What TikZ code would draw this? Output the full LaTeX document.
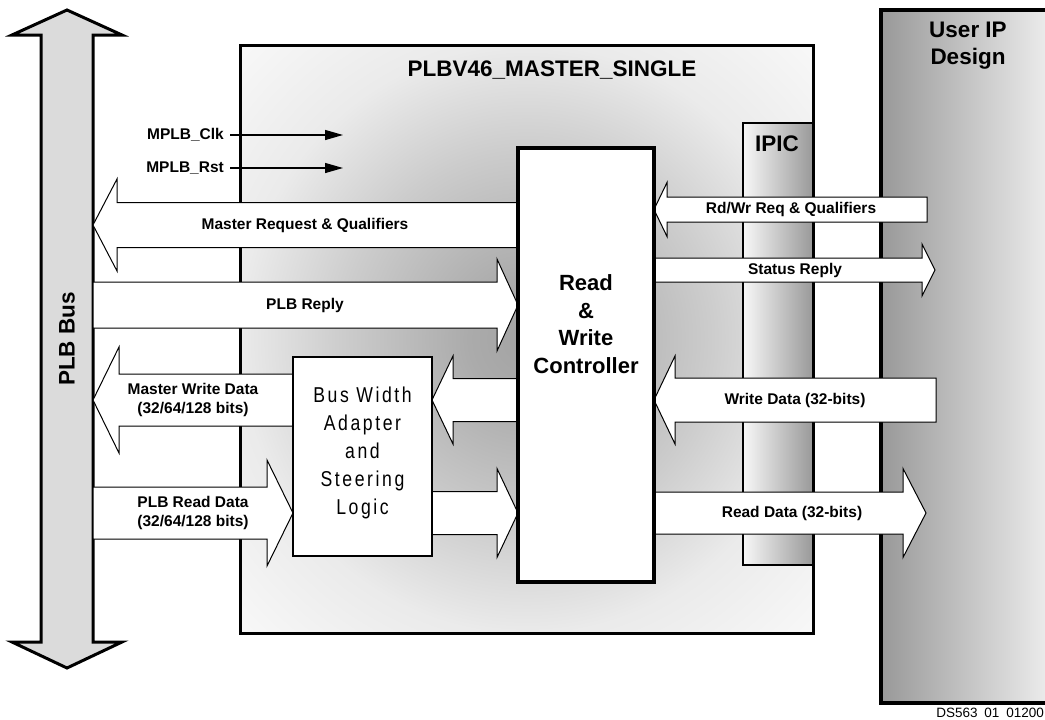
\documentclass[tikz,border=0pt]{standalone}
\usepackage{fontspec}
\setmainfont{Liberation Sans}
\newfontfamily\adaptfont[FakeStretch=0.82,LetterSpace=12]{Liberation Sans}
\usetikzlibrary{calc,arrows.meta}
\pgfdeclareradialshading{mastershade}{\pgfpoint{0bp}{0bp}}{color(0bp)=(black!36); color(5bp)=(black!33); color(16bp)=(black!20); color(25bp)=(black!8); color(35bp)=(black!3); color(50bp)=(black!3)}
\tikzset{
  barrow/.style n args={3}{draw, fill=white, line width=1pt, line join=miter,
    to path={let \p1=(\tikztostart), \p2=(\tikztotarget), \n1={(\x2>\x1)*2-1} in
      ({\x1},{\y1+#1}) -- ({\x2-(\n1)*#3},{\y1+#1}) -- ({\x2-(\n1)*#3},{\y1+#2}) -- ({\x2},{\y1})
      -- ({\x2-(\n1)*#3},{\y1-#2}) -- ({\x2-(\n1)*#3},{\y1-#1}) -- ({\x1},{\y1-#1}) -- cycle}},
  box/.style={inner sep=0pt, outer sep=0pt, anchor=north west},
  biglbl/.style={font=\bfseries\fontsize{22.5}{27}\selectfont, inner sep=0pt},
  lbl/.style={font=\bfseries\fontsize{15.5}{18.5}\selectfont, inner sep=0pt, align=center},
  sig/.style={line width=1.3pt, -{Triangle[length=18pt,width=10pt]}},
}
\begin{document}
\begin{tikzpicture}[x=1pt,y=-1pt]
\useasboundingbox (0,0) rectangle (1045,720);
\clip (0,0) rectangle (1045,720);

% PLB bus
\node[inner sep=0pt, outer sep=0pt, minimum width=52pt, minimum height=607pt] (bus) at (67,338.5) {};
\draw[line width=3pt, fill=black!14, line join=miter]
  (bus.north west) -- (12,35) -- (67,10) -- (122,35) -- (bus.north east)
  -- (bus.south east) -- (122,642) -- (67,668) -- (12,642) -- (bus.south west) -- cycle;
\node[biglbl, rotate=90] (buslbl) at (67,339) {PLB Bus};

% master block
\node[box, draw, line width=3pt, shading=mastershade, minimum width=573pt, minimum height=588pt] (master) at (240,45) {};
\node[biglbl] (title) at (552,70) {PLBV46\_MASTER\_SINGLE};

% IPIC
\node[box, draw, line width=2.5pt, left color=black!3, right color=black!40, minimum width=70pt, minimum height=442pt] (ipic) at (743,123) {};
\node[biglbl] (ipiclbl) at (777,144) {IPIC};

% User IP
\node[box, draw, line width=4pt, left color=black!40, right color=black!5, minimum width=180pt, minimum height=693pt] (userip) at (881,10) {};
\node[biglbl, align=center] (userlbl) at (968,45.5) {User IP\\Design};

% clock / reset
\node[lbl, anchor=east, inner xsep=6pt] (clk) at (230,135) {MPLB\_Clk};
\node[lbl, anchor=east, inner xsep=6pt] (rst) at (230,168) {MPLB\_Rst};
\coordinate (clkend) at (343,135);
\coordinate (rstend) at (343,168);
\draw[sig] (clk.east) -- (clkend);
\draw[sig] (rst.east) -- (rstend);

% controller and adapter (anchors)
\node[box, minimum width=136pt, minimum height=434pt] (ctrl) at (518,148) {};
\node[box, minimum width=139pt, minimum height=199pt] (adapt) at (293,357) {};

% rows
\coordinate (yA) at (0,225);
\coordinate (yB) at (0,305);
\coordinate (yC) at (0,400);
\coordinate (yD) at (0,513);
\coordinate (yE) at (0,209.5);
\coordinate (yF) at (0,270);

% arrow end points
\coordinate (mrqS) at (ctrl.west |- yA);  \coordinate (mrqE) at (bus.east |- yA);
\coordinate (plbS) at (bus.east |- yB);   \coordinate (plbE) at (ctrl.west |- yB);
\coordinate (mwdS) at (adapt.west |- yC); \coordinate (mwdE) at (bus.east |- yC);
\coordinate (prdS) at (bus.east |- yD);   \coordinate (prdE) at (adapt.west |- yD);
\coordinate (cwS) at (ctrl.west |- yC);   \coordinate (cwE) at (adapt.east |- yC);
\coordinate (arS) at (adapt.east |- yD);  \coordinate (arE) at (ctrl.west |- yD);
\coordinate (rdwrS) at (927,209.5);       \coordinate (rdwrE) at (ctrl.east |- yE);
\coordinate (statS) at (ctrl.east |- yF); \coordinate (statE) at (935,270);
\coordinate (wdS) at (936,400);           \coordinate (wdE) at (ctrl.east |- yC);
\coordinate (rdS) at (ctrl.east |- yD);   \coordinate (rdE) at (926,513);

% block arrows
\draw[barrow={22.5pt}{46pt}{24pt}] (mrqS) to (mrqE);
\draw[barrow={23pt}{46pt}{21pt}] (plbS) to (plbE);
\draw[barrow={26pt}{53pt}{26pt}] (mwdS) to (mwdE);
\draw[barrow={26pt}{53pt}{26pt}] (prdS) to (prdE);
\draw[barrow={21.5pt}{44pt}{21pt}] (cwS) to (cwE);
\draw[barrow={21.5pt}{44.5pt}{21pt}] (arS) to (arE);
\draw[barrow={12.5pt}{27pt}{13pt}] (rdwrS) to (rdwrE);
\draw[barrow={12pt}{26pt}{13pt}] (statS) to (statE);
\draw[barrow={22pt}{44pt}{21pt}] (wdS) to (wdE);
\draw[barrow={21pt}{44.5pt}{23pt}] (rdS) to (rdE);

% controller box
\draw[line width=3.5pt, fill=white] (ctrl.north west) rectangle (ctrl.south east);
\node[font=\bfseries\fontsize{22}{27.7}\selectfont, align=center, inner sep=0pt] (ctrllbl) at (586,324) {Read\\\&\\Write\\Controller};

% adapter box
\draw[line width=1.3pt, fill=white] (adapt.north west) rectangle (adapt.south east);
\node[font=\adaptfont\fontsize{21.5}{27.8}\selectfont, align=center, inner sep=0pt] (adaptlbl) at (362.5,453) {Bus Width\\Adapter\\and\\Steering\\Logic};

% arrow labels
\node[lbl] (mrq) at (305,225) {Master Request \& Qualifiers};
\node[lbl] (plbr) at (305,305) {PLB Reply};
\node[lbl] (mwd) at (193,400) {Master Write Data\\(32/64/128 bits)};
\node[lbl] (prd) at (193,513) {PLB Read Data\\(32/64/128 bits)};
\node[lbl] (rdwr) at (791,209.5) {Rd/Wr Req \& Qualifiers};
\node[lbl] (stat) at (795,270) {Status Reply};
\node[lbl] (wd) at (795,400) {Write Data (32-bits)};
\node[lbl] (rd) at (792,513) {Read Data (32-bits)};

% footer
\node[anchor=east, font=\fontsize{13.5}{16}\selectfont, inner sep=0pt] (ds) at (1044,713) {DS563\enspace 01\enspace 01200};
\end{tikzpicture}
\end{document}
